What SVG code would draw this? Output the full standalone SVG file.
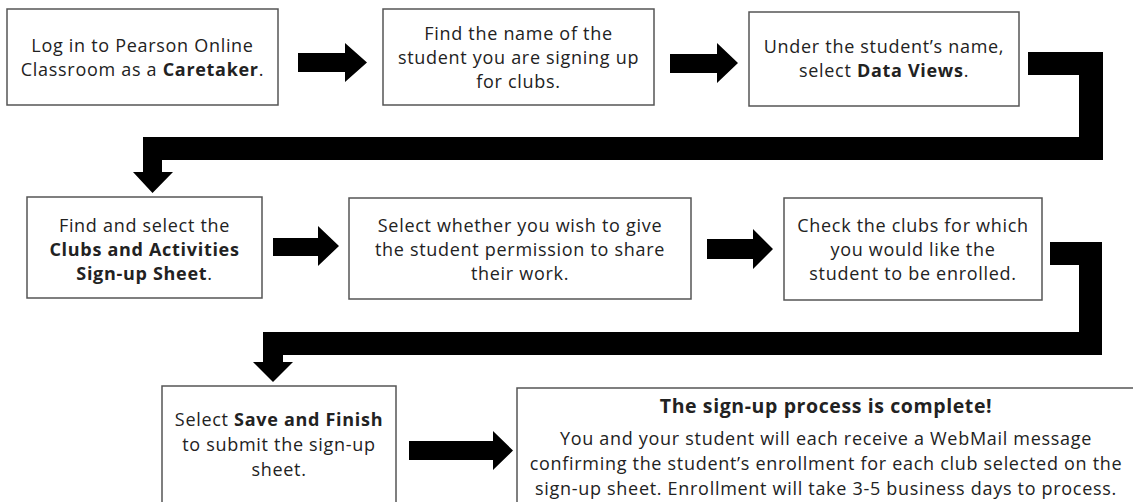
<svg xmlns="http://www.w3.org/2000/svg" width="1133" height="502" viewBox="0 0 1133 502">
<style>
.box{fill:#fff;stroke:#555;stroke-width:1.5}
.t{font-family:"Open Sans","Liberation Sans",sans-serif;font-size:18px;letter-spacing:0.7px;fill:#222;text-anchor:middle}
.b{font-weight:700}
.title{font-size:19.5px;letter-spacing:0.6px}
.conn{fill:#000;stroke:none}
</style>
<rect width="1133" height="502" fill="#fff"/>
<g id="connectors">
<path class="conn" d="M298,53 H345 V43 L367,62.5 L345,82 V72 H298 Z"/>
<path class="conn" d="M670,54 H717 V43 L738,63 L717,83 V73 H670 Z"/>
<path class="conn" d="M1028,52 H1103 V160 H162 V172 H173 L152.5,193 L133,172 H143 V137 H1079 V75 H1028 Z"/>
<path class="conn" d="M273,238 H318 V226 L339,246 L318,266 V256 H273 Z"/>
<path class="conn" d="M707,239 H753 V229 L773,249 L753,269 V259 H707 Z"/>
<path class="conn" d="M1050,242 H1102 V355 H283 V362 H293 L273,382 L253,362 H263 V332 H1079 V265 H1050 Z"/>
<path class="conn" d="M409,441 H493 V431 L513,450.5 L493,470 V460 H409 Z"/>
</g>
<g id="n1">
<rect class="box" x="7" y="9" width="271" height="96"/>
<text class="t" x="142.5" y="52">Log in to Pearson Online</text>
<text class="t" x="142.5" y="76">Classroom as a <tspan class="b">Caretaker</tspan>.</text>
</g>
<g id="n2">
<rect class="box" x="383" y="9" width="271" height="96"/>
<text class="t" x="518.5" y="40">Find the name of the</text>
<text class="t" x="518.5" y="64">student you are signing up</text>
<text class="t" x="518.5" y="88">for clubs.</text>
</g>
<g id="n3">
<rect class="box" x="749" y="12" width="270" height="94"/>
<text class="t" x="884" y="53">Under the student’s name,</text>
<text class="t" x="884" y="77">select <tspan class="b">Data Views</tspan>.</text>
</g>
<g id="n4">
<rect class="box" x="27" y="197" width="235" height="101"/>
<text class="t" x="144.5" y="232">Find and select the</text>
<text class="t b" x="144.5" y="256">Clubs and Activities</text>
<text class="t" x="144.5" y="280"><tspan class="b">Sign-up Sheet</tspan>.</text>
</g>
<g id="n5">
<rect class="box" x="349" y="198" width="342" height="101"/>
<text class="t" x="520" y="232">Select whether you wish to give</text>
<text class="t" x="520" y="256">the student permission to share</text>
<text class="t" x="520" y="280">their work.</text>
</g>
<g id="n6">
<rect class="box" x="784" y="198" width="258" height="102"/>
<text class="t" x="913" y="232">Check the clubs for which</text>
<text class="t" x="913" y="256">you would like the</text>
<text class="t" x="913" y="280">student to be enrolled.</text>
</g>
<g id="n7">
<rect class="box" x="162" y="386" width="234" height="120"/>
<text class="t" x="279" y="426">Select <tspan class="b">Save and Finish</tspan></text>
<text class="t" x="279" y="451">to submit the sign-up</text>
<text class="t" x="279" y="476">sheet.</text>
</g>
<g id="n8">
<rect class="box" x="517" y="388" width="620" height="120"/>
<text class="t b title" x="826" y="413">The sign-up process is complete!</text>
<text class="t" x="826" y="445">You and your student will each receive a WebMail message</text>
<text class="t" x="826" y="470">confirming the student’s enrollment for each club selected on the</text>
<text class="t" x="826" y="495">sign-up sheet. Enrollment will take 3-5 business days to process.</text>
</g>
</svg>
